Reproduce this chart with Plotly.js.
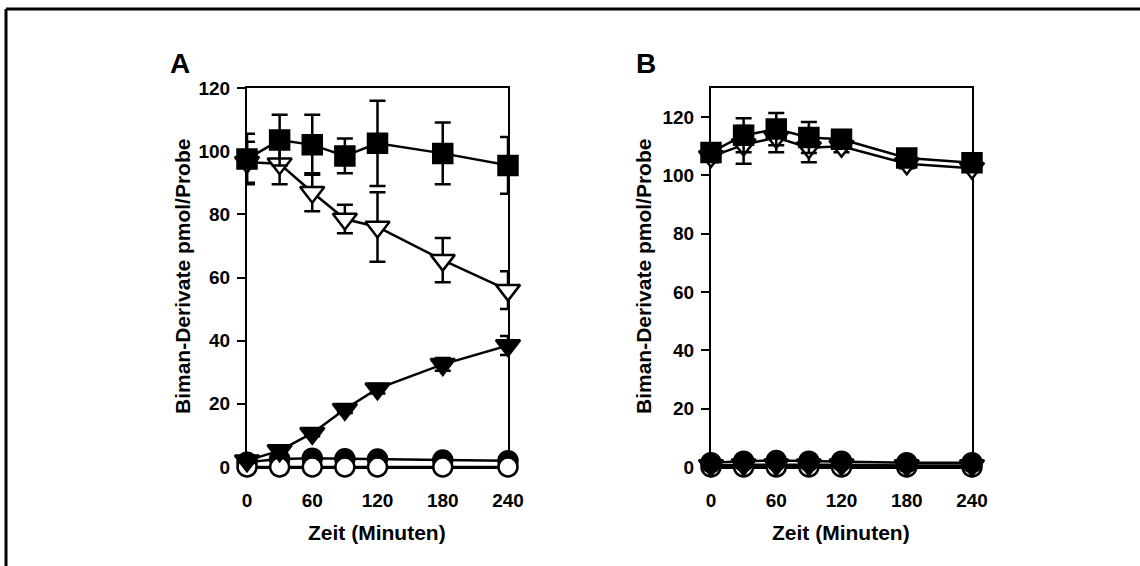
<!DOCTYPE html>
<html>
<head>
<meta charset="utf-8">
<script src="https://cdn.plot.ly/plotly-3.0.1.min.js"></script>
<style>
  html, body { margin: 0; padding: 0; background: #fff; }
  #chart { width: 1140px; height: 566px; }
</style>
</head>
<body>
<div id="chart"></div>
<script>
// ---- Data ----
const time = [0, 30, 60, 90, 120, 180, 240];
const xTickVals = [0, 60, 120, 180, 240];
const yTickValsA = [0, 20, 40, 60, 80, 100, 120];
const yTickValsB = [0, 20, 40, 60, 80, 100, 120];

// Panel A
const A_squareFilled = [97.5, 103.5, 102, 98.5, 102.5, 99.3, 95.5];
const A_squareFilledErr = [8, 8, 9.5, 5.5, 13.5, 9.8, 9];
const A_triOpen = [96.5, 96, 87, 78.5, 76, 65.5, 56];
const A_triOpenErr = [6.5, 6.5, 6, 4.5, 11, 7, 6];
const A_triFilled = [2, 5.2, 10.7, 18.3, 24.8, 32.5, 38.5];
const A_triFilledErr = [0.5, 0.8, 1, 1.2, 1.5, 2, 3];
const A_circFilled = [1.5, 2.5, 2.8, 2.6, 2.5, 2.2, 2];
const A_circOpen = [0, 0, 0, 0, 0, 0, 0];

// Panel B
const B_squareFilled = [107.9, 113.8, 115.9, 113, 112.4, 106, 104.4];
const B_squareFilledErr = [2.5, 5.8, 5.5, 5.3, 2, 3, 1.5];
const B_triOpen = [106.5, 110.5, 113, 109.5, 110, 104, 102.5];
const B_triOpenErr = [2, 6.5, 5, 5, 2, 1.5, 1];
const B_circFilled = [1.5, 2, 2.2, 2, 2, 1.5, 1.5];
const B_triFilled = [0.5, 0.8, 0.8, 0.8, 0.8, 0.5, 0.5];
const B_circOpen = [0, 0, 0, 0, 0, 0, 0];

// ---- Styling helpers ----
const FONT = 'Arial, "Liberation Sans", sans-serif';
function series(x, y, err, xa, ya, symbol, fill, size) {
  const t = {
    x: x, y: y, xaxis: xa, yaxis: ya,
    type: 'scatter', mode: 'lines+markers',
    cliponaxis: false,
    showlegend: false,
    line: { color: '#000', width: 2.5 },
    marker: { symbol: symbol, size: size, color: fill, line: { color: '#000', width: 2.5 } }
  };
  if (err) {
    t.error_y = { type: 'data', array: err, visible: true, color: '#000', thickness: 2.5, width: 8 };
  }
  return t;
}

const SQ = 19, CI = 19, TR = 21;
const traces = [
  // Panel A
  series(time, A_circFilled, null, 'x', 'y', 'circle', '#000', CI),
  series(time, A_circOpen, null, 'x', 'y', 'circle', '#fff', CI),
  series(time, A_triFilled, A_triFilledErr, 'x', 'y', 'triangle-down', '#000', TR),
  series(time, A_triOpen, A_triOpenErr, 'x', 'y', 'triangle-down', '#fff', TR),
  series(time, A_squareFilled, A_squareFilledErr, 'x', 'y', 'square', '#000', SQ),
  // Panel B
  series(time, B_circOpen, null, 'x2', 'y2', 'circle', '#fff', CI),
  series(time, B_circFilled, null, 'x2', 'y2', 'circle', '#000', CI),
  series(time, B_triFilled, null, 'x2', 'y2', 'triangle-down', '#000', TR),
  series(time, B_triOpen, B_triOpenErr, 'x2', 'y2', 'triangle-down', '#fff', TR),
  series(time, B_squareFilled, B_squareFilledErr, 'x2', 'y2', 'square', '#000', SQ)
];

const W = 1140, H = 566;
const px = v => v / W;
const py = v => 1 - v / H;

function xaxis(domain) {
  return {
    domain: domain, range: [0, 240],
    showline: true, mirror: true, linecolor: '#000', linewidth: 2,
    showgrid: false, zeroline: false,
    tickmode: 'array', tickvals: xTickVals, ticktext: xTickVals.map(String),
    ticks: 'outside', ticklen: 15, tickcolor: 'rgba(0,0,0,0)',
    tickfont: { family: FONT, size: 19, color: '#000', weight: 'bold' },
    layer: 'below traces', fixedrange: true
  };
}
function yaxis(range, vals, anchor) {
  return {
    domain: [py(467), py(88)], range: range, anchor: anchor,
    showline: true, mirror: true, linecolor: '#000', linewidth: 2,
    showgrid: false, zeroline: false,
    tickmode: 'array', tickvals: vals, ticktext: vals.map(String),
    ticks: 'outside', ticklen: 8, tickwidth: 2, tickcolor: '#000',
    ticklabelstandoff: 3,
    tickfont: { family: FONT, size: 19, color: '#000', weight: 'bold' },
    layer: 'below traces', fixedrange: true
  };
}

const titleFont = { family: FONT, size: 21, color: '#000', weight: 'bold' };
const ytitle = 'Biman-Derivate pmol/Probe';
const xtitle = 'Zeit (Minuten)';

const layout = {
  width: W, height: H,
  margin: { l: 0, r: 0, t: 0, b: 0 },
  paper_bgcolor: '#fff', plot_bgcolor: 'rgba(0,0,0,0)',
  showlegend: false,
  xaxis: Object.assign(xaxis([px(247), px(508)]), { anchor: 'y' }),
  yaxis: yaxis([0, 120], yTickValsA, 'x'),
  xaxis2: Object.assign(xaxis([px(711), px(972)]), { anchor: 'y2' }),
  yaxis2: yaxis([0, 130], yTickValsB, 'x2'),
  annotations: [
    { text: 'A', xref: 'paper', yref: 'paper', x: px(180), y: py(63), showarrow: false,
      xanchor: 'center', yanchor: 'middle', font: { family: FONT, size: 28, color: '#000', weight: 'bold' } },
    { text: 'B', xref: 'paper', yref: 'paper', x: px(646), y: py(63), showarrow: false,
      xanchor: 'center', yanchor: 'middle', font: { family: FONT, size: 28, color: '#000', weight: 'bold' } },
    { text: ytitle, xref: 'paper', yref: 'paper', x: px(183), y: py(277), showarrow: false,
      textangle: -90, xanchor: 'center', yanchor: 'middle', font: titleFont },
    { text: ytitle, xref: 'paper', yref: 'paper', x: px(644), y: py(277), showarrow: false,
      textangle: -90, xanchor: 'center', yanchor: 'middle', font: titleFont },
    { text: xtitle, xref: 'paper', yref: 'paper', x: px(377), y: py(532), showarrow: false,
      xanchor: 'center', yanchor: 'middle', font: titleFont },
    { text: xtitle, xref: 'paper', yref: 'paper', x: px(841), y: py(532), showarrow: false,
      xanchor: 'center', yanchor: 'middle', font: titleFont }
  ],
  shapes: [
    { type: 'line', xref: 'paper', yref: 'paper', x0: px(6), x1: px(1140), y0: py(9), y1: py(9),
      line: { color: '#000', width: 3 }, layer: 'above' },
    { type: 'line', xref: 'paper', yref: 'paper', x0: px(6), x1: px(6), y0: py(9), y1: py(566),
      line: { color: '#000', width: 3 }, layer: 'above' }
  ]
};

Plotly.newPlot('chart', traces, layout, { displayModeBar: false, staticPlot: true });
</script>
</body>
</html>
